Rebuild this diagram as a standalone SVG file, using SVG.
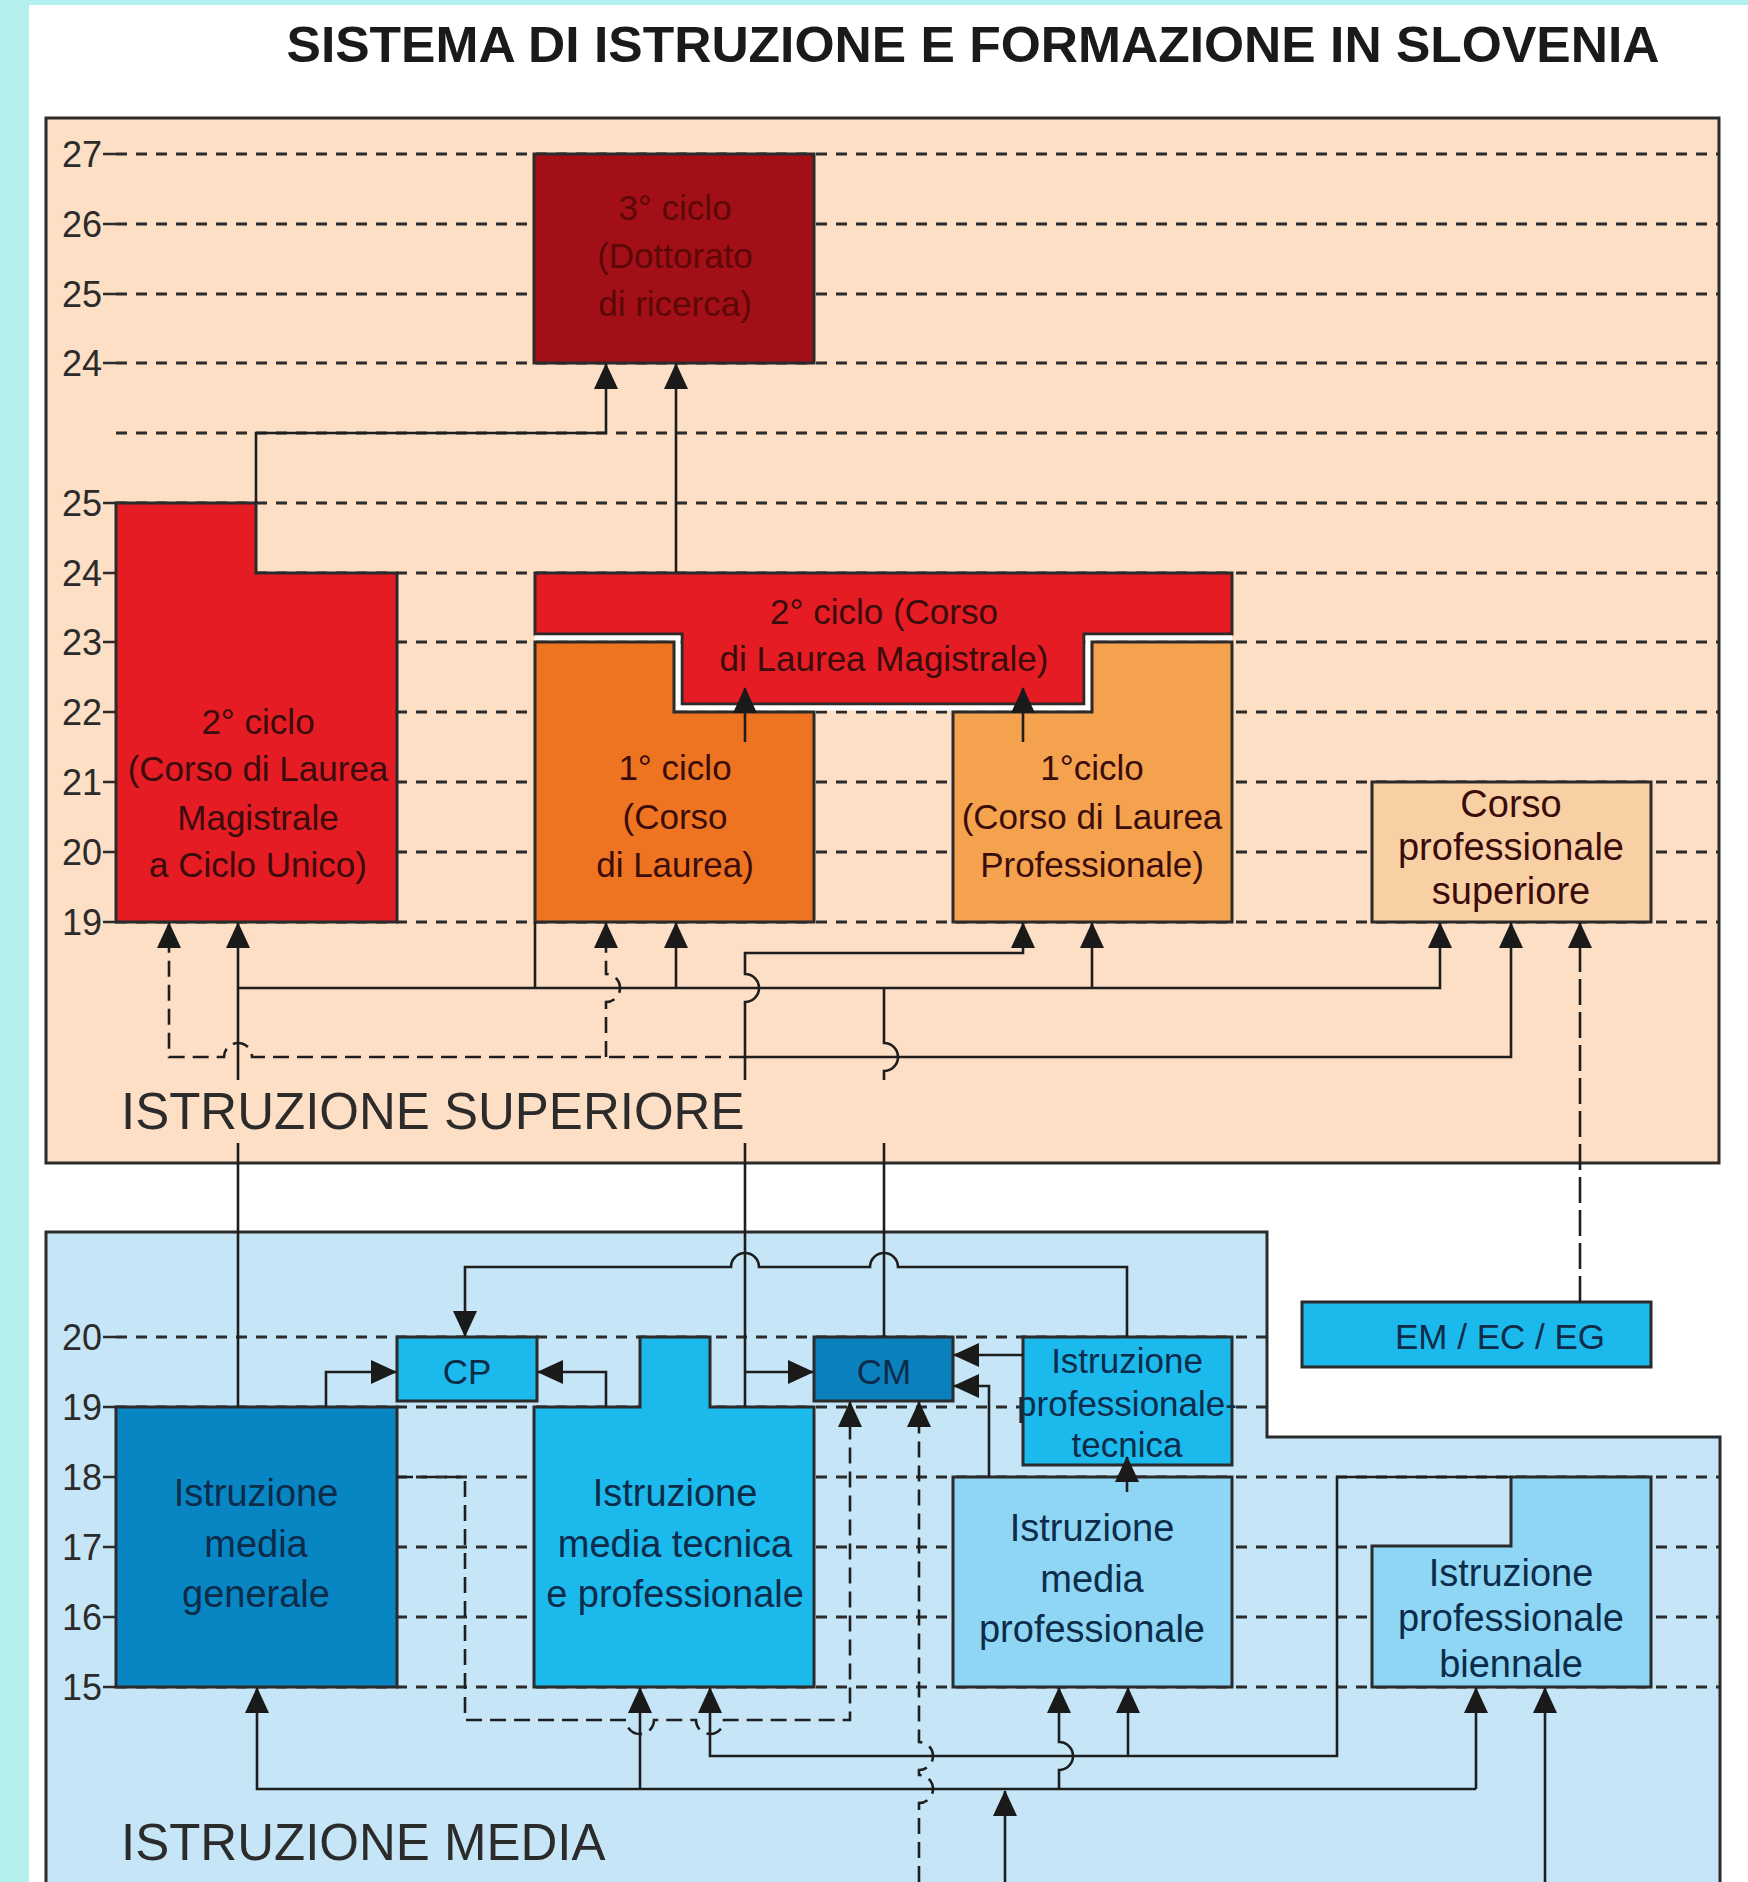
<svg xmlns="http://www.w3.org/2000/svg" width="1748" height="1882" viewBox="0 0 1748 1882">
<style>
.grid{stroke:#2b2b2b;stroke-width:2.8;stroke-dasharray:11 9;fill:none}
.tick{stroke:#2b2b2b;stroke-width:2.6}
.box{stroke:#2b2b2b;stroke-width:3}
.c{stroke:#1e1e1e;stroke-width:2.6;fill:none}
.d{stroke-dasharray:16 8}
.dl{stroke-dasharray:26 7}
.num{font-family:"Liberation Sans",Arial,sans-serif;font-size:36px;fill:#2b2b2b;text-anchor:end}
.t{font-family:"Liberation Sans",Arial,sans-serif;font-size:35px;text-anchor:middle}
.tl{font-size:38px}
.tr{fill:#3a0c0c}
.tb{fill:#0d2c4a}
.sec{font-family:"Liberation Sans",Arial,sans-serif;font-size:51px;fill:#2b2b2b}
</style>
<defs>
<marker id="ah" markerWidth="26" markerHeight="24" refX="25" refY="12" orient="auto" markerUnits="userSpaceOnUse"><path d="M0,0 L26,12 L0,24 z" fill="#1a1a1a"/></marker>
</defs>
<rect x="0" y="0" width="1748" height="1882" fill="#b4f1ee"/>
<rect x="29" y="5" width="1719" height="1877" fill="#ffffff"/>
<text x="973" y="62" font-family="'Liberation Sans',Arial,sans-serif" font-size="50" font-weight="bold" fill="#1a1a1a" text-anchor="middle" textLength="1373" lengthAdjust="spacingAndGlyphs">SISTEMA DI ISTRUZIONE E FORMAZIONE IN SLOVENIA</text>

<g id="panel-superiore">
<rect x="46" y="118" width="1673" height="1045" fill="#fcdfc4" stroke="#2b2b2b" stroke-width="3"/>
<g>
<line class="grid" x1="116" y1="154" x2="1719" y2="154"/>
<line class="grid" x1="116" y1="224" x2="1719" y2="224"/>
<line class="grid" x1="116" y1="294" x2="1719" y2="294"/>
<line class="grid" x1="116" y1="363" x2="1719" y2="363"/>
<line class="grid" x1="116" y1="433" x2="1719" y2="433"/>
<line class="grid" x1="116" y1="503" x2="1719" y2="503"/>
<line class="grid" x1="116" y1="573" x2="1719" y2="573"/>
<line class="grid" x1="116" y1="642" x2="1719" y2="642"/>
<line class="grid" x1="116" y1="712" x2="1719" y2="712"/>
<line class="grid" x1="116" y1="782" x2="1719" y2="782"/>
<line class="grid" x1="116" y1="852" x2="1719" y2="852"/>
<line class="grid" x1="116" y1="922" x2="1719" y2="922"/>
<path class="tick" d="M103,154H116M103,224H116M103,294H116M103,363H116M103,503H116M103,573H116M103,642H116M103,712H116M103,782H116M103,852H116M103,922H116"/>
<text class="num" x="102" y="167">27</text>
<text class="num" x="102" y="237">26</text>
<text class="num" x="102" y="307">25</text>
<text class="num" x="102" y="376">24</text>
<text class="num" x="102" y="516">25</text>
<text class="num" x="102" y="586">24</text>
<text class="num" x="102" y="655">23</text>
<text class="num" x="102" y="725">22</text>
<text class="num" x="102" y="795">21</text>
<text class="num" x="102" y="865">20</text>
<text class="num" x="102" y="935">19</text>
</g>
<text class="sec" x="121" y="1129">ISTRUZIONE SUPERIORE</text>
</g>

<g id="panel-media">
<path d="M46,1900 L46,1232 L1267,1232 L1267,1437 L1720,1437 L1720,1900" fill="#c6e6f7" stroke="#2b2b2b" stroke-width="3"/>
<line class="grid" x1="116" y1="1337" x2="1267" y2="1337"/>
<line class="grid" x1="116" y1="1407" x2="1267" y2="1407"/>
<line class="grid" x1="116" y1="1477" x2="1720" y2="1477"/>
<line class="grid" x1="116" y1="1547" x2="1720" y2="1547"/>
<line class="grid" x1="116" y1="1617" x2="1720" y2="1617"/>
<line class="grid" x1="116" y1="1687" x2="1720" y2="1687"/>
<path class="tick" d="M103,1337H116M103,1407H116M103,1477H116M103,1547H116M103,1617H116M103,1687H116"/>
<text class="num" x="102" y="1350">20</text>
<text class="num" x="102" y="1420">19</text>
<text class="num" x="102" y="1490">18</text>
<text class="num" x="102" y="1560">17</text>
<text class="num" x="102" y="1630">16</text>
<text class="num" x="102" y="1700">15</text>
<text class="sec" x="121" y="1860">ISTRUZIONE MEDIA</text>
</g>

<g id="n-dottorato">
<rect class="box" x="534" y="154" width="280" height="209" fill="#a30f16"/>
<text class="t" x="675" y="220" fill="#5c0808" font-size="36">3° ciclo</text>
<text class="t" x="675" y="268" fill="#5c0808" font-size="36">(Dottorato</text>
<text class="t" x="675" y="316" fill="#5c0808" font-size="36">di ricerca)</text>
</g>
<g id="n-ciclo-unico">
<path class="box" d="M116,503 L256,503 L256,573 L397,573 L397,922 L116,922 Z" fill="#e51c23"/>
<text class="t tr" x="258" y="734">2° ciclo</text>
<text class="t tr" x="258" y="781">(Corso di Laurea</text>
<text class="t tr" x="258" y="830">Magistrale</text>
<text class="t tr" x="258" y="877">a Ciclo Unico)</text>
</g>
<g id="n-magistrale">
<path class="box" d="M535,573 L1232,573 L1232,634 L1084,634 L1084,704 L682,704 L682,634 L535,634 Z" fill="#e51c23"/>
<polyline points="535,638 678,638 678,708 1088,708 1088,638 1232,638" fill="none" stroke="#ffffff" stroke-width="5"/>
<text class="t tr" x="884" y="624" font-size="37.5">2° ciclo (Corso</text>
<text class="t tr" x="884" y="671" font-size="37.5">di Laurea Magistrale)</text>
</g>
<g id="n-laurea">
<path class="box" d="M535,642 L674,642 L674,712 L814,712 L814,922 L535,922 Z" fill="#ee7421"/>
<text class="t tr" x="675" y="780">1° ciclo</text>
<text class="t tr" x="675" y="829">(Corso</text>
<text class="t tr" x="675" y="877">di Laurea)</text>
</g>
<g id="n-laurea-prof">
<path class="box" d="M953,712 L1092,712 L1092,642 L1232,642 L1232,922 L953,922 Z" fill="#f4a24d"/>
<text class="t tr" x="1092" y="780">1°ciclo</text>
<text class="t tr" x="1092" y="829">(Corso di Laurea</text>
<text class="t tr" x="1092" y="877">Professionale)</text>
</g>
<g id="n-corso-sup">
<rect class="box" x="1372" y="782" width="279" height="140" fill="#f9d0a4"/>
<text class="t tr tl" x="1511" y="817">Corso</text>
<text class="t tr tl" x="1511" y="860">professionale</text>
<text class="t tr tl" x="1511" y="904">superiore</text>
</g>

<g id="n-cp">
<rect class="box" x="397" y="1337" width="140" height="64" fill="#1bb9ec"/>
<text class="t tb" x="467" y="1384" font-size="41">CP</text>
</g>
<g id="n-generale">
<rect class="box" x="116" y="1407" width="281" height="280" fill="#0886c3"/>
<text class="t tb tl" x="256" y="1506">Istruzione</text>
<text class="t tb tl" x="256" y="1557">media</text>
<text class="t tb tl" x="256" y="1607">generale</text>
</g>
<g id="n-tecnica">
<path class="box" d="M534,1407 L640,1407 L640,1337 L710,1337 L710,1407 L814,1407 L814,1687 L534,1687 Z" fill="#1bb9ec"/>
<text class="t tb tl" x="675" y="1506">Istruzione</text>
<text class="t tb tl" x="675" y="1557">media tecnica</text>
<text class="t tb tl" x="675" y="1607">e professionale</text>
</g>
<g id="n-cm">
<rect class="box" x="814" y="1337" width="139" height="64" fill="#0a80bd"/>
<text class="t tb" x="884" y="1384" font-size="41">CM</text>
</g>
<g id="n-prof-tecnica">
<rect class="box" x="1023" y="1337" width="209" height="128" fill="#1bb9ec"/>
<text class="t tb" x="1127" y="1373" font-size="31">Istruzione</text>
<text class="t tb" x="1127" y="1416" font-size="31">professionale-</text>
<text class="t tb" x="1127" y="1457" font-size="31">tecnica</text>
</g>
<g id="n-media-prof">
<rect class="box" x="953" y="1477" width="279" height="210" fill="#8ed6f4"/>
<text class="t tb tl" x="1092" y="1541">Istruzione</text>
<text class="t tb tl" x="1092" y="1592">media</text>
<text class="t tb tl" x="1092" y="1642">professionale</text>
</g>
<g id="n-biennale">
<path class="box" d="M1372,1546 L1511,1546 L1511,1477 L1651,1477 L1651,1687 L1372,1687 Z" fill="#8ed6f4"/>
<text class="t tb tl" x="1511" y="1586">Istruzione</text>
<text class="t tb tl" x="1511" y="1631">professionale</text>
<text class="t tb tl" x="1511" y="1677">biennale</text>
</g>
<g id="n-em">
<rect class="box" x="1302" y="1302" width="349" height="65" fill="#1bb9ec"/>
<text class="t tb" x="1500" y="1349" font-size="39.5">EM / EC / EG</text>
</g>

<g id="connectors">
<path class="c" d="M256,503 L256,433 L606,433 L606,364" marker-end="url(#ah)"/>
<path class="c" d="M676,573 L676,364" marker-end="url(#ah)"/>
<path class="c" d="M745,742 L745,688" marker-end="url(#ah)"/>
<path class="c" d="M1023,742 L1023,688" marker-end="url(#ah)"/>
<path class="c" d="M238,1407 L238,1143 M238,1080 L238,923" marker-end="url(#ah)"/>
<path class="c" d="M238,988 L1440,988 L1440,923" marker-end="url(#ah)"/>
<path class="c" d="M535,988 L535,922"/>
<path class="c" d="M676,988 L676,923" marker-end="url(#ah)"/>
<path class="c" d="M1092,988 L1092,923" marker-end="url(#ah)"/>
<path class="c" d="M745,1407 L745,1143 M745,1080 L745,1002 A14,14 0 0 0 745,974 L745,953 L1023,953 L1023,923" marker-end="url(#ah)"/>
<path class="c" d="M745,1057 L1511,1057 L1511,923" marker-end="url(#ah)"/>
<path class="c" d="M884,1337 L884,1143 M884,1080 L884,1071 A14,14 0 0 0 884,1043 L884,988"/>
<path class="c d" d="M745,1057 L252,1057 A14,14 0 0 0 224,1057 L169,1057 L169,923" marker-end="url(#ah)"/>
<path class="c d" d="M606,1057 L606,1002 A14,14 0 0 0 606,974 L606,923" marker-end="url(#ah)"/>
<path class="c dl" d="M1580,1302 L1580,923" marker-end="url(#ah)"/>

<path class="c" d="M326,1407 L326,1372 L396,1372" marker-end="url(#ah)"/>
<path class="c" d="M606,1407 L606,1372 L538,1372" marker-end="url(#ah)"/>
<path class="c" d="M1127,1337 L1127,1267 L898,1267 A14,14 0 0 0 870,1267 L759,1267 A14,14 0 0 0 731,1267 L465,1267 L465,1336" marker-end="url(#ah)"/>
<path class="c" d="M745,1372 L813,1372" marker-end="url(#ah)"/>
<path class="c" d="M1023,1355 L954,1355" marker-end="url(#ah)"/>
<path class="c" d="M989,1477 L989,1386 L954,1386" marker-end="url(#ah)"/>
<path class="c" d="M1127,1492 L1127,1457" marker-end="url(#ah)"/>
<path class="c d" d="M397,1477 L465,1477 L465,1720 L626,1720 A14,14 0 0 0 654,1720 L696,1720 A14,14 0 0 0 724,1720 L850,1720 L850,1402" marker-end="url(#ah)"/>
<path class="c d" d="M919,1882 L919,1803 A14,14 0 0 0 919,1775 L919,1770 A14,14 0 0 0 919,1742 L919,1402" marker-end="url(#ah)"/>
<path class="c" d="M1476,1789 L257,1789 L257,1688" marker-end="url(#ah)"/>
<path class="c" d="M1476,1789 L1476,1688" marker-end="url(#ah)"/>
<path class="c" d="M640,1789 L640,1688" marker-end="url(#ah)"/>
<path class="c" d="M1059,1789 L1059,1770 A14,14 0 0 0 1059,1742 L1059,1688" marker-end="url(#ah)"/>
<path class="c" d="M1005,1882 L1005,1791" marker-end="url(#ah)"/>
<path class="c" d="M1511,1477 L1337,1477 L1337,1756 L710,1756 L710,1688" marker-end="url(#ah)"/>
<path class="c" d="M1128,1756 L1128,1688" marker-end="url(#ah)"/>
<path class="c" d="M1545,1882 L1545,1688" marker-end="url(#ah)"/>
</g>
</svg>
